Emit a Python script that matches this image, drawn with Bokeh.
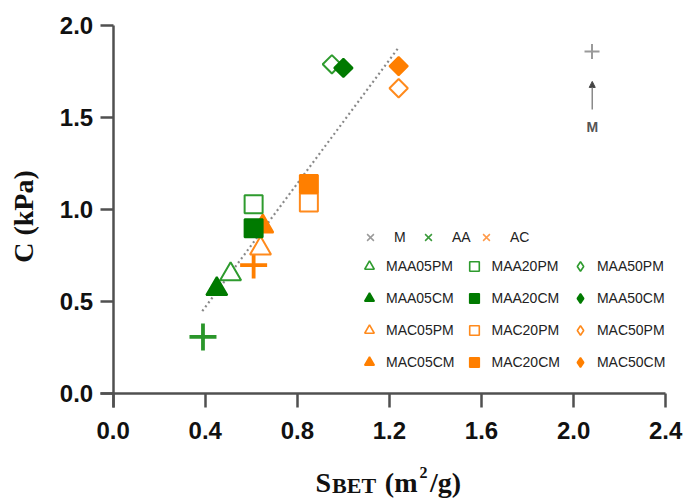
from bokeh.plotting import figure
from bokeh.models import (Range1d, Legend, LegendItem, Label, Arrow, NormalHead,
                          PrintfTickFormatter, FixedTicker)
from bokeh.embed import file_html
from bokeh.resources import INLINE
import math

# ---------------- data ----------------
names = ["MAA05PM", "MAA05CM", "MAC05PM", "MAC05CM",
         "MAA20PM", "MAA20CM", "MAC20PM", "MAC20CM",
         "MAA50PM", "MAA50CM", "MAC50PM", "MAC50CM"]
sbet = [0.51, 0.45, 0.64, 0.65,
        0.61, 0.61, 0.85, 0.85,
        0.95, 1.00, 1.24, 1.24]
c_kpa = [0.65, 0.57, 0.79, 0.91,
         1.03, 0.90, 1.04, 1.14,
         1.79, 1.77, 1.66, 1.78]

ref_names = ["M", "AA", "AC"]
ref_sbet = [2.08, 0.39, 0.61]
ref_c = [1.86, 0.31, 0.70]

fit_x = [0.387, 1.241]
fit_y = [0.45, 1.883]

x_ticks = [0.0, 0.4, 0.8, 1.2, 1.6, 2.0, 2.4]
y_ticks = [0.0, 0.5, 1.0, 1.5, 2.0]

# ---------------- styles ----------------
GREEN_OPEN = "#2E9B2E"
GREEN_FILL = "#007A00"
ORANGE = "#FF7F00"
ORANGE_OPEN = "#FF8A1C"
GREY = "#9A9A9A"
AXIS = "#505050"
NAN = float("nan")

def style(name):
    shape = {"05": "triangle", "20": "square", "50": "diamond"}[name[3:5]]
    filled = name.endswith("CM")
    green = name.startswith("MAA")
    if filled:
        col = GREEN_FILL if green else ORANGE
    else:
        col = GREEN_OPEN if green else ORANGE_OPEN
    return shape, filled, col

# the frame fills the whole canvas; axes sit at x=0 / y=0 (Prism style)
p = figure(width=690, height=499, output_backend="svg", toolbar_location=None,
           x_range=Range1d(-0.48958, 2.50782), y_range=Range1d(-0.57275, 2.13626),
           min_border_left=0, min_border_right=0, min_border_top=0,
           min_border_bottom=0)
p.title.visible = False
p.outline_line_color = None
p.xgrid.visible = False
p.ygrid.visible = False
p.background_fill_color = "white"

# regression line
p.line(fit_x, fit_y, line_color="#8A8A8A", line_width=2.2, line_dash="2 3")

# reference "+" markers
ref_cols = [GREY, "#2A962A", ORANGE]
ref_sizes = [15, 27, 27]
ref_lw = [2, 3.8, 3.8]
for i in range(3):
    p.scatter([ref_sbet[i]], [ref_c[i]], marker="cross", size=ref_sizes[i],
              line_color=ref_cols[i], line_width=ref_lw[i])

# data markers
for i, nm in enumerate(names):
    shape, filled, col = style(nm)
    if shape == "diamond":
        mk, sz, ang = "square", 13, math.pi / 4
    elif shape == "square":
        mk, sz, ang = "square", 18, 0
    else:
        mk, sz, ang = "triangle", 21, 0
    p.scatter([sbet[i]], [c_kpa[i]], marker=mk, size=sz, angle=ang,
              line_color=col, line_width=2,
              fill_color=col if filled else "white")

# legend-only renderers (one invisible NaN point each)
leg_ref_cols = [GREY, "#3A9A3A", "#FF9A4A"]
ref_items = []
for i, nm in enumerate(ref_names):
    r = p.scatter(x=[NAN], y=[NAN], marker="x", line_color=leg_ref_cols[i], line_width=1.5)
    ref_items.append(LegendItem(label=nm, renderers=[r]))

series_items = {}
for nm in names:
    shape, filled, col = style(nm)
    r = p.scatter(x=[NAN], y=[NAN], marker=shape, line_color=col, line_width=1.6,
                  fill_color=col if filled else "white")
    series_items[nm] = LegendItem(label=nm, renderers=[r])

order = ["MAA05PM", "MAA05CM", "MAC05PM", "MAC05CM",
         "MAA20PM", "MAA20CM", "MAC20PM", "MAC20CM",
         "MAA50PM", "MAA50CM", "MAC50PM", "MAC50CM"]

common = dict(padding=0, margin=0, border_line_color=None, background_fill_alpha=0,
              label_text_font="Liberation Sans", label_text_font_size="14px",
              label_text_color="#222222", glyph_width=24, glyph_height=24,
              label_height=24)

leg1 = Legend(items=ref_items, orientation="horizontal", location=(358, 250),
              label_standoff=12, spacing=2, **common)
leg2 = Legend(items=[series_items[n] for n in order], ncols=3, location=(357, 125),
              label_standoff=5, spacing=8, **common)
p.add_layout(leg1)
p.add_layout(leg2)

# annotation for M
p.add_layout(Arrow(x_start=2.081, y_start=1.545, x_end=2.081, y_end=1.697,
                   line_color="#8A8A8A", line_width=1.5,
                   end=NormalHead(size=6, fill_color="#444444", line_color="#444444")))
p.add_layout(Label(x=2.081, y=1.447, text="M", text_align="center",
                   text_baseline="middle", text_font="Liberation Sans",
                   text_font_size="14px", text_font_style="bold",
                   text_color="#555555"))

# axes
for ax in (p.xaxis[0], p.yaxis[0]):
    ax.fixed_location = 0
    ax.axis_line_color = AXIS
    ax.axis_line_width = 2.5
    ax.major_tick_line_color = AXIS
    ax.major_tick_line_width = 2.5
    ax.major_tick_in = 0
    ax.minor_tick_line_color = None
    ax.major_label_text_font = "Liberation Sans"
    ax.major_label_text_font_style = "bold"
    ax.major_label_text_font_size = "24px"
    ax.major_label_text_color = "#111111"
    ax.formatter = PrintfTickFormatter(format="%.1f")

p.xaxis[0].ticker = FixedTicker(ticks=x_ticks)
p.yaxis[0].ticker = FixedTicker(ticks=y_ticks)
p.xaxis[0].bounds = (-0.0552, 2.4)
p.yaxis[0].bounds = (-0.0733, 2.0)
p.xaxis[0].major_tick_out = 14
p.yaxis[0].major_tick_out = 13
p.xaxis[0].major_label_standoff = 14
p.yaxis[0].major_label_standoff = 7

p.yaxis[0].axis_label = "C (kPa)"
p.yaxis[0].axis_label_text_font = "Liberation Serif"
p.yaxis[0].axis_label_text_font_style = "bold"
p.yaxis[0].axis_label_text_font_size = "28px"
p.yaxis[0].axis_label_text_color = "#111111"
p.yaxis[0].axis_label_standoff = 18

# x axis title built from pieces (subscript / superscript)
title_parts = [("S", 0.879, -0.479, "28px"),
               ("BET", 0.951, -0.496, "22px"),
               ("(m", 1.180, -0.479, "28px"),
               ("2", 1.331, -0.428, "16px"),
               ("/g)", 1.376, -0.479, "28px")]
for txt, tx, ty, fs in title_parts:
    p.add_layout(Label(x=tx, y=ty, text=txt, text_align="left",
                       text_baseline="alphabetic", text_font="Liberation Serif",
                       text_font_style="bold", text_font_size=fs,
                       text_color="#111111"))

open("out.html", "w").write(file_html(p, INLINE))
